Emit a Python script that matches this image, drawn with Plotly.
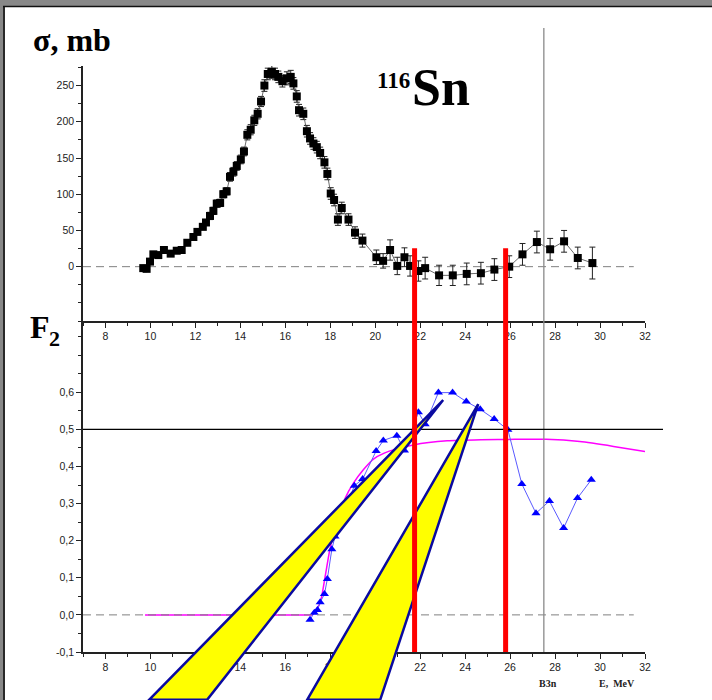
import plotly.graph_objects as go

W, H = 712, 700

# ---------------- data ----------------
sigma_E = [9.68, 9.83, 9.98, 10.13, 10.35, 10.6, 10.9, 11.17, 11.39, 11.64,
           11.91, 12.09, 12.33, 12.47, 12.65, 12.8, 12.95, 13.1, 13.24, 13.39,
           13.54, 13.69, 13.84, 14.02, 14.16, 14.31, 14.46, 14.62, 14.77, 14.92,
           15.07, 15.22, 15.4, 15.54, 15.69, 15.87, 16.07, 16.24, 16.36, 16.51,
           16.61, 16.8, 16.96, 17.1, 17.25, 17.4, 17.55, 17.74, 17.87, 18.02,
           18.17, 18.34, 18.51, 18.81, 19.1, 19.43, 20.05, 20.35, 20.66, 20.98,
           21.3, 21.55, 21.92, 22.22, 22.84, 23.45, 24.07, 24.7, 25.3, 25.96,
           26.55, 27.19, 27.78, 28.4, 29.01, 29.66]
sigma_mb = [-2, -3, 7, 17, 16, 23, 18, 22, 23, 33,
            41, 48, 55, 61, 70, 77, 87, 88, 100, 104,
            124, 131, 139, 148, 159, 182, 189, 202, 211, 228,
            250, 266, 269, 266, 262, 256, 260, 262, 253, 235,
            216, 211, 187, 177, 170, 165, 157, 144, 128, 101,
            92, 65, 81, 65, 47, 36, 13, 8, 23, 1,
            13, 1, -6, -2, -12, -12, -10, -9, -4, 0,
            17, 34, 24, 35, 12, 5]
sigma_err = [2, 2, 3, 3, 3, 4, 3, 3, 3, 4,
             4, 4, 4, 4, 5, 5, 5, 5, 5, 5,
             6, 6, 6, 6, 6, 7, 7, 7, 7, 7,
             8, 8, 9, 8, 8, 8, 9, 9, 8, 8,
             8, 8, 8, 8, 8, 8, 8, 8, 8, 8,
             8, 8, 8, 8, 8, 9, 10, 10, 14, 12,
             13, 14, 14, 15, 14, 14, 15, 15, 15, 15,
             15, 15, 15, 15, 15, 22]

F2_E = [17.1, 17.29, 17.43, 17.55, 17.74, 17.87, 18.07, 18.21, 19.07, 19.44,
        20.04, 20.36, 20.96, 21.3, 21.92, 22.22, 22.81, 23.44, 24.05, 24.67,
        25.29, 25.9, 26.52, 27.15, 27.75, 28.38, 29.0, 29.61]
F2_val = [-0.013, 0.006, 0.013, 0.034, 0.056, 0.097, 0.177, 0.211, 0.348, 0.366,
          0.442, 0.47, 0.483, 0.443, 0.546, 0.514, 0.599, 0.599, 0.575, 0.554,
          0.528, 0.499, 0.353, 0.274, 0.307, 0.234, 0.315, 0.364]

fit_E = [9.76, 17.2, 17.55, 17.77, 17.96, 18.1, 18.66, 19.03, 19.47, 19.92,
         20.4, 20.9, 21.7, 23.2, 24.7, 26.2, 27.6, 29.1, 30.6, 32.0]
fit_F2 = [0.0, 0.0, 0.032, 0.103, 0.17, 0.207, 0.314, 0.355, 0.391, 0.42,
          0.436, 0.446, 0.458, 0.469, 0.472, 0.473, 0.473, 0.467, 0.454, 0.44]

x_ticks = list(range(8, 33, 2))
sigma_ticks = [0, 50, 100, 150, 200, 250]
F2_ticks = [-0.1, 0.0, 0.1, 0.2, 0.3, 0.4, 0.5, 0.6]
F2_ticklabels = ["-0,1", "0,0", "0,1", "0,2", "0,3", "0,4", "0,5", "0,6"]

threshold_E = [21.75, 25.8]       # red vertical lines
B3n_E = 27.5                      # B3n threshold
F2_level = 0.5

# wedge decorations: (apex E, apex F2), base F2, base E left/right
wedges = [
    dict(apex=(23.02, 0.579), base_F2=-0.229, base_E=(9.94, 12.52)),
    dict(apex=(24.58, 0.568), base_F2=-0.229, base_E=(16.97, 20.22)),
]

# ---------------- layout geometry ----------------
X_RANGE = [7, 32]
SIG_RANGE = [-75, 277]
F2_RANGE = [-0.1, 0.792]

xdom = [83 / W, 645 / W]
ydom_top = [(H - 321) / H, (H - 66) / H]
ydom_bot = [(H - 652) / H, (H - 321) / H]


def xpaper(e):
    return xdom[0] + (e - X_RANGE[0]) / (X_RANGE[1] - X_RANGE[0]) * (xdom[1] - xdom[0])


def ypaper_bot(v):
    return ydom_bot[0] + (v - F2_RANGE[0]) / (F2_RANGE[1] - F2_RANGE[0]) * (ydom_bot[1] - ydom_bot[0])


def ypaper_top(v):
    return ydom_top[0] + (v - SIG_RANGE[0]) / (SIG_RANGE[1] - SIG_RANGE[0]) * (ydom_top[1] - ydom_top[0])


fig = go.Figure()

fig.add_trace(go.Scatter(
    x=sigma_E, y=sigma_mb, xaxis="x", yaxis="y", mode="lines+markers",
    error_y=dict(type="data", array=sigma_err, color="#222222", thickness=1, width=3),
    marker=dict(symbol="square", size=8, color="black"),
    line=dict(color="#444444", width=0.8), cliponaxis=False))

# fit curve: flat part (linear) + rising/plateau part (smooth)
n_flat = 2
fig.add_trace(go.Scatter(
    x=fit_E[:n_flat], y=fit_F2[:n_flat], xaxis="x2", yaxis="y2", mode="lines",
    line=dict(color="#ff00ff", width=1.5)))
fig.add_trace(go.Scatter(
    x=fit_E[n_flat - 1:], y=fit_F2[n_flat - 1:], xaxis="x2", yaxis="y2", mode="lines",
    line=dict(color="#ff00ff", width=1.5, shape="spline", smoothing=0.5)))

fig.add_trace(go.Scatter(
    x=F2_E, y=F2_val, xaxis="x2", yaxis="y2", mode="lines+markers",
    marker=dict(symbol="triangle-up", size=8, color="#0000ff"),
    line=dict(color="#5a5aff", width=1), cliponaxis=False))

tickfont = dict(family="Liberation Sans, Arial", size=10.5, color="#222222")
axis_common = dict(showgrid=False, zeroline=False, showline=True, linecolor="#222222",
                   linewidth=1.5, ticks="outside", ticklen=5, tickwidth=1, tickcolor="#222222",
                   tickfont=tickfont, automargin=False)

fig.update_layout(
    width=W, height=H, margin=dict(l=0, r=0, t=0, b=0),
    template="none", showlegend=False,
    paper_bgcolor="white", plot_bgcolor="rgba(0,0,0,0)",
    xaxis=dict(domain=xdom, range=X_RANGE, anchor="y", tickvals=x_ticks,
               minor=dict(dtick=1, tick0=7, ticklen=3, ticks="outside", tickcolor="#222222"),
               **axis_common),
    yaxis=dict(domain=ydom_top, range=SIG_RANGE, anchor="x", tickvals=sigma_ticks,
               minor=dict(dtick=25, tick0=0, ticklen=3, ticks="outside", tickcolor="#222222"),
               **axis_common),
    xaxis2=dict(domain=xdom, range=X_RANGE, anchor="y2", tickvals=x_ticks,
                minor=dict(dtick=1, tick0=7, ticklen=3, ticks="outside", tickcolor="#222222"),
                **axis_common),
    yaxis2=dict(domain=ydom_bot, range=F2_RANGE, anchor="x2", tickvals=F2_ticks,
                ticktext=F2_ticklabels,
                minor=dict(dtick=0.05, tick0=0, ticklen=3, ticks="outside", tickcolor="#222222"),
                **axis_common),
)

shapes = []
# dashed zero lines
shapes.append(dict(type="line", xref="x", yref="y", x0=X_RANGE[0], x1=31.5, y0=0, y1=0,
                   line=dict(color="#808080", width=1, dash="8px,5px"), layer="below"))
shapes.append(dict(type="line", xref="x2", yref="y2", x0=X_RANGE[0], x1=31.5, y0=0, y1=0,
                   line=dict(color="#808080", width=1, dash="8px,5px"), layer="above"))
# B3n vertical line
shapes.append(dict(type="line", xref="x", yref="paper", x0=B3n_E, x1=B3n_E,
                   y0=ydom_bot[0], y1=(H - 28) / H,
                   line=dict(color="#8a8a8a", width=1.3)))
# 0.5 level line (extends beyond the axis)
shapes.append(dict(type="line", xref="paper", yref="y2", x0=xdom[0], x1=663 / W,
                   y0=F2_level, y1=F2_level, line=dict(color="black", width=1.2)))
# wedges
for w in wedges:
    ax, ay = xpaper(w["apex"][0]), ypaper_bot(w["apex"][1])
    bl, br = xpaper(w["base_E"][0]), xpaper(w["base_E"][1])
    by = ypaper_bot(w["base_F2"])
    path = f"M {ax},{ay} L {bl},{by} L {br},{by} Z"
    shapes.append(dict(type="path", xref="paper", yref="paper", path=path,
                       fillcolor="#ffff00", line=dict(color="#0a0aa0", width=2.5)))
# red threshold lines
for e in threshold_E:
    shapes.append(dict(type="line", xref="x", yref="paper", x0=e, x1=e,
                       y0=ydom_bot[0], y1=ypaper_top(25.5),
                       line=dict(color="#ff0000", width=5)))
# frame of the picture
shapes.append(dict(type="rect", xref="paper", yref="paper", x0=0, x1=1, y0=(H - 6) / H, y1=1,
                   fillcolor="#888888", line=dict(width=0)))
shapes.append(dict(type="line", xref="paper", yref="paper", x0=0, x1=1,
                   y0=(H - 6.5) / H, y1=(H - 6.5) / H, line=dict(color="#111111", width=1.5)))
shapes.append(dict(type="rect", xref="paper", yref="paper", x0=0, x1=3 / W, y0=0, y1=1,
                   fillcolor="#888888", line=dict(width=0)))
shapes.append(dict(type="line", xref="paper", yref="paper", x0=4 / W, x1=4 / W,
                   y0=0, y1=(H - 6) / H, line=dict(color="#111111", width=1.8)))
fig.update_layout(shapes=shapes)

serif = "Liberation Serif, Times New Roman, serif"
ann = []
ann.append(dict(text="<b>σ, mb</b>", x=72 / W, y=(H - 40) / H, xref="paper", yref="paper",
                showarrow=False, font=dict(family=serif, size=32, color="black"),
                xanchor="center", yanchor="middle"))
ann.append(dict(text="<b>116</b>", x=412 / W, y=(H - 80) / H, xref="paper", yref="paper",
                showarrow=False, font=dict(family=serif, size=23, color="black"),
                xanchor="right", yanchor="middle"))
ann.append(dict(text="<b>Sn</b>", x=410 / W, y=(H - 88) / H, xref="paper", yref="paper",
                showarrow=False, font=dict(family=serif, size=52, color="black"),
                xanchor="left", yanchor="middle"))
ann.append(dict(text="<b>F</b>", x=40 / W, y=(H - 327) / H, xref="paper", yref="paper",
                showarrow=False, font=dict(family=serif, size=32, color="black"),
                xanchor="center", yanchor="middle"))
ann.append(dict(text="<b>2</b>", x=54 / W, y=(H - 338) / H, xref="paper", yref="paper",
                showarrow=False, font=dict(family=serif, size=22, color="black"),
                xanchor="center", yanchor="middle"))
ann.append(dict(text="<b>B3n</b>", x=548 / W, y=(H - 683) / H, xref="paper", yref="paper",
                showarrow=False, font=dict(family=serif, size=10, color="#222222"),
                xanchor="center", yanchor="middle"))
ann.append(dict(text="<b>E,  MeV</b>", x=617 / W, y=(H - 683) / H, xref="paper", yref="paper",
                showarrow=False, font=dict(family=serif, size=10, color="#222222"),
                xanchor="center", yanchor="middle"))
fig.update_layout(annotations=ann)

fig.write_html("out.html")
